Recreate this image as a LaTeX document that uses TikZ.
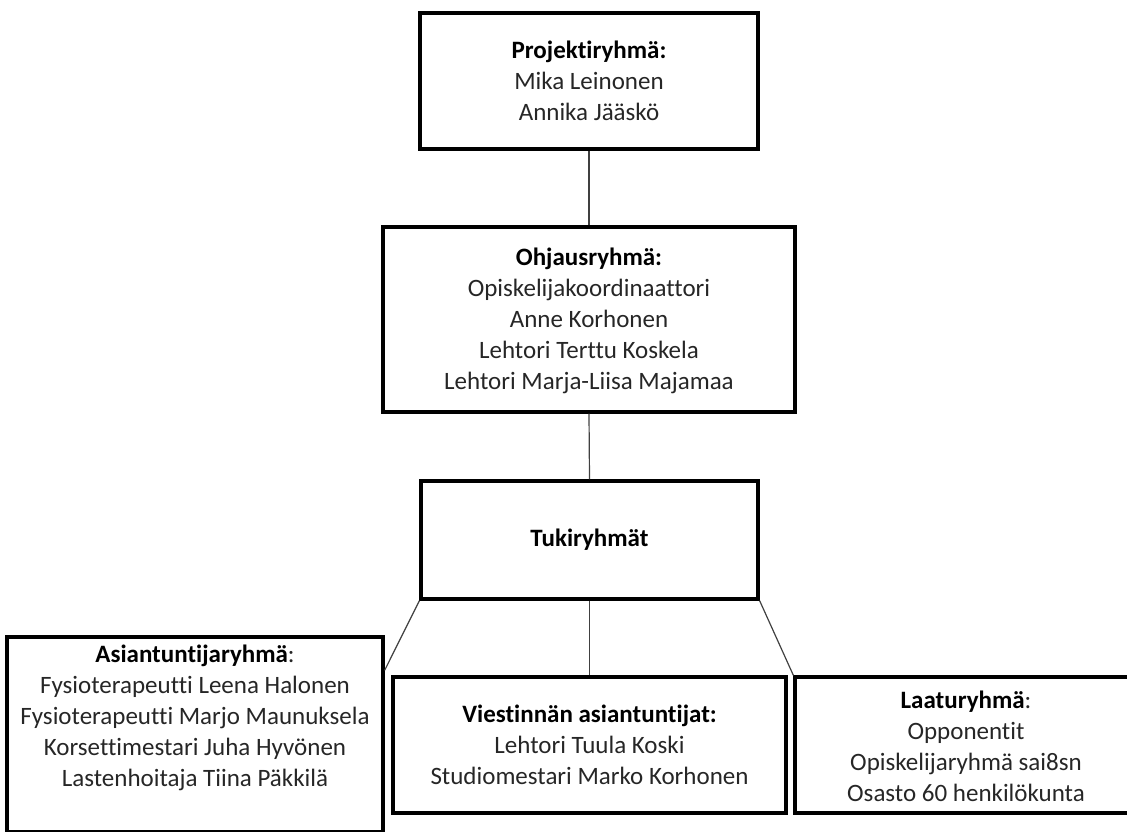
\documentclass[tikz,border=0pt]{standalone}
\usepackage{fontspec}
\setmainfont[Ligatures=NoCommon]{Carlito}
\usetikzlibrary{calc}
\definecolor{txt}{HTML}{262626}
\definecolor{conn}{HTML}{404040}
\begin{document}
\begin{tikzpicture}[x=1pt,y=-1pt,
  box/.style={draw=black,line width=3.2pt,inner sep=0pt},
  lbl/.style={align=center,text=txt,inner sep=0pt,font=\fontsize{25}{31}\selectfont},
  conn/.style={draw=conn,line width=1.2pt}]
\useasboundingbox (0,0) rectangle (1127,831);
\clip (0,0) rectangle (1127,831);
% connectors (drawn first, under the boxes)
\node[box,minimum width=338pt,minimum height=136pt] (b1) at (589,81) {};
\node[box,minimum width=412pt,minimum height=185pt] (b2) at (589,319.5) {};
\node[box,minimum width=337pt,minimum height=118pt] (b3) at (589.5,540) {};
\node[box,minimum width=376pt,minimum height=195pt] (b4) at (195,734.5) {};
\node[box,minimum width=393pt,minimum height=136pt] (b5) at (589.5,745) {};
\node[box,minimum width=342pt,minimum height=136pt] (b6) at (966,745) {};
\coordinate (b4c) at ($(b4.north east)+(0,35)$);
\draw[conn] (b1.south) -- (b2.north);
\draw[conn] (b2.south) -- (b3.north);
\draw[conn] (b3.south) -- (b5.north);
\draw[conn] (b3.south west) -- (b4c);
\draw[conn] (b3.south east) -- (b6.north west);
% texts
\node[lbl] (t1) at (589,81) {\textbf{\color{black}Projektiryhmä:}\\Mika Leinonen\\Annika Jääskö};
\node[lbl] (t2) at (589,321) {\textbf{\color{black}Ohjausryhmä:}\\Opiskelijakoordinaattori\\Anne Korhonen\\Lehtori Terttu Koskela\\Lehtori Marja-Liisa Majamaa};
\node[lbl] (t3) at (589.5,540) {\textbf{\color{black}Tukiryhmät}};
\node[lbl] (t4) at (195,717.5) {\textbf{\color{black}Asiantuntijaryhmä}:\\Fysioterapeutti Leena Halonen\\Fysioterapeutti Marjo Maunuksela\\Korsettimestari Juha Hyvönen\\Lastenhoitaja Tiina Päkkilä};
\node[lbl] (t5) at (589.5,745) {\textbf{\color{black}Viestinnän asiantuntijat:}\\Lehtori Tuula Koski\\Studiomestari Marko Korhonen};
\node[lbl] (t6) at (966,746) {\textbf{\color{black}Laaturyhmä}:\\Opponentit\\Opiskelijaryhmä sai8sn\\Osasto 60 henkilökunta};
\end{tikzpicture}
\end{document}
